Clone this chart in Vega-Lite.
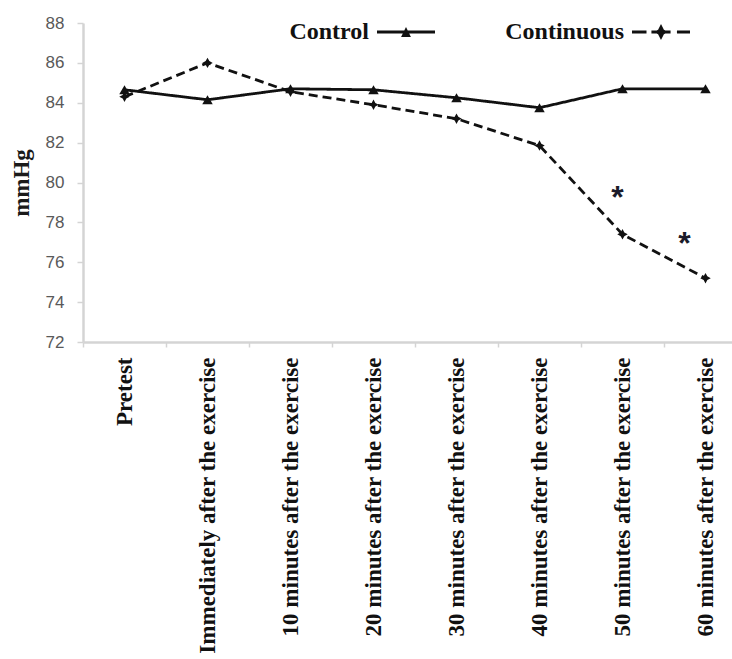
{
  "$schema": "https://vega.github.io/schema/vega-lite/v6.json",
  "width": 649,
  "height": 319,
  "autosize": {"type": "none"},
  "padding": {"left": 83, "top": 23, "right": 0, "bottom": 317},
  "background": "white",
  "config": {"view": {"stroke": null}},
  "datasets": {
    "bp": [
      {"group": "Control", "time": "Pretest", "mmHg": 84.65},
      {"group": "Control", "time": "Immediately after the exercise", "mmHg": 84.15},
      {"group": "Control", "time": "10 minutes after the exercise", "mmHg": 84.7},
      {"group": "Control", "time": "20 minutes after the exercise", "mmHg": 84.65},
      {"group": "Control", "time": "30 minutes after the exercise", "mmHg": 84.25},
      {"group": "Control", "time": "40 minutes after the exercise", "mmHg": 83.75},
      {"group": "Control", "time": "50 minutes after the exercise", "mmHg": 84.7},
      {"group": "Control", "time": "60 minutes after the exercise", "mmHg": 84.7},
      {"group": "Continuous", "time": "Pretest", "mmHg": 84.3},
      {"group": "Continuous", "time": "Immediately after the exercise", "mmHg": 86.0},
      {"group": "Continuous", "time": "10 minutes after the exercise", "mmHg": 84.55},
      {"group": "Continuous", "time": "20 minutes after the exercise", "mmHg": 83.9},
      {"group": "Continuous", "time": "30 minutes after the exercise", "mmHg": 83.2},
      {"group": "Continuous", "time": "40 minutes after the exercise", "mmHg": 81.85},
      {"group": "Continuous", "time": "50 minutes after the exercise", "mmHg": 77.4},
      {"group": "Continuous", "time": "60 minutes after the exercise", "mmHg": 75.2}
    ],
    "stars": [
      {"time": "50 minutes after the exercise", "mmHg": 79.5},
      {"time": "60 minutes after the exercise", "mmHg": 77.2}
    ]
  },
  "data": {"name": "bp"},
  "encoding": {
    "x": {
      "field": "time",
      "type": "nominal",
      "sort": ["Pretest", "Immediately after the exercise", "10 minutes after the exercise", "20 minutes after the exercise", "30 minutes after the exercise", "40 minutes after the exercise", "50 minutes after the exercise", "60 minutes after the exercise"],
      "scale": {"range": [0, 664], "paddingInner": 0, "paddingOuter": 0},
      "axis": {
        "title": null,
        "labelAngle": -90,
        "labelAlign": "right",
        "labelBaseline": "middle",
        "labelFont": "Liberation Serif",
        "labelFontWeight": "bold",
        "labelFontSize": 23,
        "labelColor": "#111111",
        "labelLimit": 0,
        "labelPadding": 10,
        "labelOverlap": false,
        "tickBand": "extent",
        "ticks": true,
        "tickSize": 5,
        "tickColor": "#d4d4d4",
        "tickWidth": 1.5,
        "domainColor": "#d4d4d4",
        "domainWidth": 2.5,
        "grid": false
      }
    },
    "y": {
      "field": "mmHg",
      "type": "quantitative",
      "scale": {"domain": [72, 88], "zero": false, "nice": false},
      "axis": {
        "title": "mmHg",
        "titleFont": "Liberation Serif",
        "titleFontWeight": "bold",
        "titleFontSize": 23,
        "titleColor": "#1a1a1a",
        "titlePadding": 12,
        "values": [72, 74, 76, 78, 80, 82, 84, 86, 88],
        "labelFont": "Liberation Sans",
        "labelFontSize": 17,
        "labelColor": "#595959",
        "labelPadding": 13,
        "tickSize": 6,
        "tickColor": "#d4d4d4",
        "tickWidth": 1.5,
        "domainColor": "#d4d4d4",
        "domainWidth": 2.5,
        "grid": false
      }
    }
  },
  "layer": [
    {
      "mark": {"type": "line", "strokeWidth": 2.8, "color": "#111111"},
      "encoding": {
        "strokeDash": {
          "field": "group",
          "type": "nominal",
          "scale": {"domain": ["Control", "Continuous"], "range": [[1, 0], [9, 5]]},
          "legend": null
        }
      }
    },
    {
      "mark": {"type": "point", "filled": true, "color": "#111111", "opacity": 1, "size": 110},
      "encoding": {
        "shape": {
          "field": "group",
          "type": "nominal",
          "scale": {"domain": ["Control", "Continuous"], "range": ["triangle-up", "M0,-1L0.35,-0.35L1,0L0.35,0.35L0,1L-0.35,0.35L-1,0L-0.35,-0.35Z"]},
          "legend": null
        }
      }
    },
    {
      "mark": {"type": "point", "filled": true, "color": "#111111", "opacity": 0},
      "encoding": {
        "shape": {
          "field": "group",
          "type": "nominal",
          "scale": {
            "domain": ["Control", "Continuous"],
            "range": [
              "M-1,-0.05L1,-0.05L1,0.05L-1,0.05Z M-0.17,0.17L0,-0.17L0.17,0.17Z",
              "M-1,-0.05L-0.5,-0.05L-0.5,0.05L-1,0.05Z M-0.33,-0.05L0.33,-0.05L0.33,0.05L-0.33,0.05Z M0.55,-0.05L1,-0.05L1,0.05L0.55,0.05Z M0,-0.28L0.1,-0.08L0.25,0L0.1,0.08L0,0.28L-0.1,0.08L-0.25,0L-0.1,-0.08Z"
            ]
          },
          "legend": {
            "orient": "none",
            "legendX": 294,
            "legendY": -20,
            "direction": "horizontal",
            "title": null,
            "padding": 0,
            "labelFont": "Liberation Serif",
            "labelFontWeight": "bold",
            "labelFontSize": 24,
            "labelColor": "#111111",
            "labelAlign": "right",
            "labelBaseline": "middle",
            "labelOffset": -66,
            "labelLimit": 0,
            "symbolSize": 3364,
            "symbolStrokeWidth": 0,
            "symbolFillColor": "#111111",
            "symbolOpacity": 1,
            "columnPadding": 70,
            "encode": {"symbols": {"update": {"opacity": {"value": 1}, "fill": {"value": "#111111"}, "strokeWidth": {"value": 0}}}}
          }
        }
      }
    },
    {
      "data": {"name": "stars"},
      "transform": [{"filter": {"field": "time", "equal": "50 minutes after the exercise"}}],
      "mark": {"type": "text", "text": "*", "font": "Liberation Sans", "fontWeight": "bold", "fontSize": 32, "color": "#1b1b2a", "baseline": "alphabetic", "dx": -5, "dy": 16}
    },
    {
      "data": {"name": "stars"},
      "transform": [{"filter": {"field": "time", "equal": "60 minutes after the exercise"}}],
      "mark": {"type": "text", "text": "*", "font": "Liberation Sans", "fontWeight": "bold", "fontSize": 32, "color": "#1b1b2a", "baseline": "alphabetic", "dx": -21, "dy": 16}
    }
  ],
  "resolve": {"scale": {"shape": "independent"}, "legend": {"shape": "independent"}}
}
